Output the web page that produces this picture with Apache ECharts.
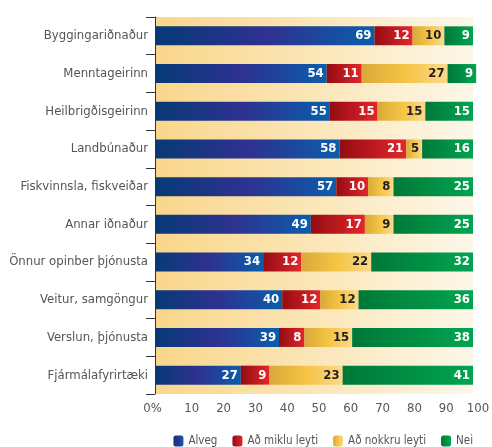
<!DOCTYPE html>
<html>
<head>
<meta charset="utf-8">
<script src="https://cdn.jsdelivr.net/npm/echarts@6/dist/echarts.min.js"></script>
<style>
  html, body { margin: 0; padding: 0; background: #fff; }
  #main { width: 492px; height: 447px; }
</style>
</head>
<body>
<div id="main"></div>
<script>
// flokkar (efst -> neðst)
var categories = ['Byggingariðnaður', 'Menntageirinn', 'Heilbrigðisgeirinn', 'Landbúnaður',
  'Fiskvinnsla, fiskveiðar', 'Annar iðnaður', 'Önnur opinber þjónusta', 'Veitur, samgöngur',
  'Verslun, þjónusta', 'Fjármálafyrirtæki'];
var alveg = [69, 54, 55, 58, 57, 49, 34, 40, 39, 27];
var miklu = [12, 11, 15, 21, 10, 17, 12, 12, 8, 9];
var nokkru = [10, 27, 15, 5, 8, 9, 22, 12, 15, 23];
var nei = [9, 9, 15, 16, 25, 25, 32, 36, 38, 41];
var xTicks = [0, 10, 20, 30, 40, 50, 60, 70, 80, 90, 100];

var font = "'DejaVu Sans Condensed', 'Liberation Sans', sans-serif";

function grad(stops) {
  return new echarts.graphic.LinearGradient(0, 0, 1, 0, stops.map(function (c, i) {
    return { offset: i / (stops.length - 1), color: c };
  }));
}

function makeSeries(name, data, colors, labelColor) {
  return {
    name: name,
    type: 'bar',
    stack: 'total',
    barWidth: 19,
    clip: false,
    itemStyle: { color: grad(colors) },
    label: {
      show: true,
      position: 'insideRight',
      distance: 3,
      color: labelColor,
      fontFamily: font,
      fontWeight: 'bold',
      fontSize: 13
    },
    data: data
  };
}

var myChart = echarts.init(document.getElementById('main'));
var option = {
  animation: false,
  textStyle: { fontFamily: font },
  grid: {
    left: 155, right: 19, top: 17, bottom: 53,
    outerBoundsMode: 'none',
    containLabel: false,
    show: true,
    borderWidth: 0,
    backgroundColor: grad(['#f9d68a', '#fbe6b8', '#fdf7ea'])
  },
  legend: {
    right: 14,
    top: 430,
    itemWidth: 10,
    itemHeight: 11,
    itemGap: 15,
    textStyle: { color: '#555', fontSize: 11.5, fontFamily: font },
    data: ['Alveg', 'Að miklu leyti', 'Að nokkru leyti', 'Nei']
  },
  xAxis: {
    type: 'value',
    min: 0,
    max: 100,
    interval: 10,
    axisLine: { show: false },
    axisTick: { show: false },
    splitLine: { show: false },
    axisLabel: {
      color: '#555',
      fontSize: 13,
      margin: 8,
      padding: [0, 0, 0, 10],
      formatter: function (v) {
        if (xTicks.indexOf(v) < 0) return '';
        return v === 0 ? '0%    ' : String(v);
      }
    }
  },
  yAxis: {
    type: 'category',
    inverse: true,
    data: categories,
    axisLine: { show: true, lineStyle: { color: '#333', width: 1 } },
    axisTick: { show: true, length: 9, lineStyle: { color: '#333' } },
    axisLabel: { color: '#555', fontSize: 13, margin: 7 }
  },
  series: [
    makeSeries('Alveg', alveg, ['#073a76', '#2e3190', '#0b5dab'], '#fff'),
    makeSeries('Að miklu leyti', miklu, ['#930c12', '#e3262c'], '#fff'),
    makeSeries('Að nokkru leyti', nokkru, ['#d8a93a', '#f5c443', '#fbd98a'], '#231f20'),
    makeSeries('Nei', nei, ['#007838', '#00a551'], '#fff')
  ]
};
myChart.setOption(option);
</script>
</body>
</html>
